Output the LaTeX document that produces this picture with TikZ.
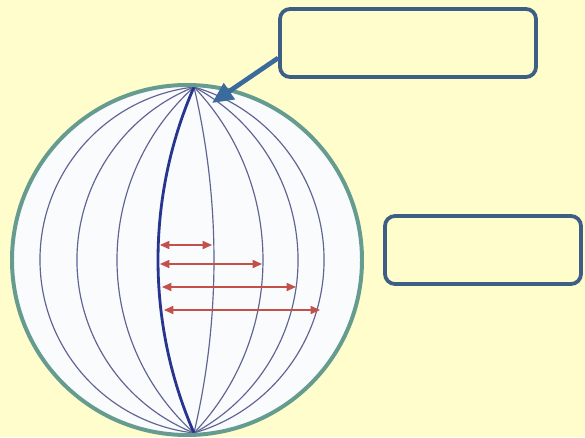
\documentclass[tikz,border=0pt]{standalone}
\usepackage{tikz}
\usetikzlibrary{
  arrows.meta,
  positioning,
  calc
}
\definecolor{PaleCream}{HTML}{FFFDCC}
\definecolor{GlobeFill}{HTML}{F9FBFD}
\definecolor{RimTeal}{HTML}{659C8F}
\definecolor{SpindleBlue}{HTML}{27358F}
\definecolor{FibreGrey}{HTML}{5F6493}
\definecolor{PullRed}{HTML}{C4504A}
\definecolor{FrameBlue}{HTML}{3D5E85}
\definecolor{PointBlue}{HTML}{3A6B9C}
\tikzset{
  % Empty label box: width given, fixed height
  lblbox/.style={
    rectangle, rounded corners=0.3cm,
    draw=FrameBlue, fill=PaleCream, line width=3.2pt,
    minimum width=#1, minimum height=2.04cm, inner sep=0pt
  },
  % Globe outline
  rim/.style={draw=RimTeal, line width=3.4pt},
  % Thin meridian
  fibre/.style={draw=FibreGrey, line width=1pt},
  % Heavy meridian
  spindle/.style={draw=SpindleBlue, line width=2.4pt},
  % Red double arrow
  pull/.style={
    {Triangle[length=8pt,width=7pt]}-{Triangle[length=8pt,width=7pt]},
    draw=PullRed, line width=1pt
  },
  % Pointer arrow
  ptr/.style={
    -{Triangle[length=18pt,width=16pt]},
    draw=PointBlue, line width=4pt
  }
}

\begin{document}
\begin{tikzpicture}[x=0.03cm, y=0.03cm]

  % ---- FRAME ----
  \fill[PaleCream] (0,0) rectangle (585,437);
  \useasboundingbox (0,0) rectangle (585,437);

  % ---- GLOBE ----
  \coordinate (ctr) at (187,177);
  \fill[GlobeFill] (ctr) circle[radius=175];

  % ---- MERIDIANS (arcs through both poles) ----
  \begin{scope}[shift={(194,177)}]
    \coordinate (north) at (0,173);
    \coordinate (south) at (0,-173);
    \foreach \d in {-154,-117,-77} {
      \pgfmathsetmacro\r{100*(1.73*1.73+(\d/100)^2)/(2*abs(\d/100))}
      \pgfmathsetmacro\a{asin(173/\r)}
      \draw[fibre] (north) arc[start angle=180-\a, end angle=180+\a, radius=\r];
    }
    \foreach \d in {20,69,104,130} {
      \pgfmathsetmacro\r{100*(1.73*1.73+(\d/100)^2)/(2*abs(\d/100))}
      \pgfmathsetmacro\a{asin(173/\r)}
      \draw[fibre] (north) arc[start angle=\a, end angle=-\a, radius=\r];
    }
    \pgfmathsetmacro\r{100*(1.73*1.73+0.36^2)/(2*0.36)}
    \pgfmathsetmacro\a{asin(173/\r)}
    \draw[spindle] (north) arc[start angle=180-\a, end angle=180+\a, radius=\r];
  \end{scope}

  \draw[rim] (ctr) circle[radius=175];

  % ---- RED ARROWS ----
  \coordinate (p1l) at (160,192); \coordinate (p1r) at (212,192);
  \coordinate (p2l) at (160,173); \coordinate (p2r) at (262,173);
  \coordinate (p3l) at (162,150); \coordinate (p3r) at (296,150);
  \coordinate (p4l) at (164,127); \coordinate (p4r) at (320,127);
  \draw[pull] (p1l) -- (p1r);
  \draw[pull] (p2l) -- (p2r);
  \draw[pull] (p3l) -- (p3r);
  \draw[pull] (p4l) -- (p4r);

  % ---- BOXES ----
  \node[lblbox=7.68cm] (top) at (408,394) {};
  \node[lblbox=5.88cm] (side) at (483,187) {};

  % ---- POINTER ----
  \coordinate (tip) at (212,334);
  \draw[ptr] ([yshift=-0.45cm]top.west) -- (tip);

\end{tikzpicture}
\end{document}
